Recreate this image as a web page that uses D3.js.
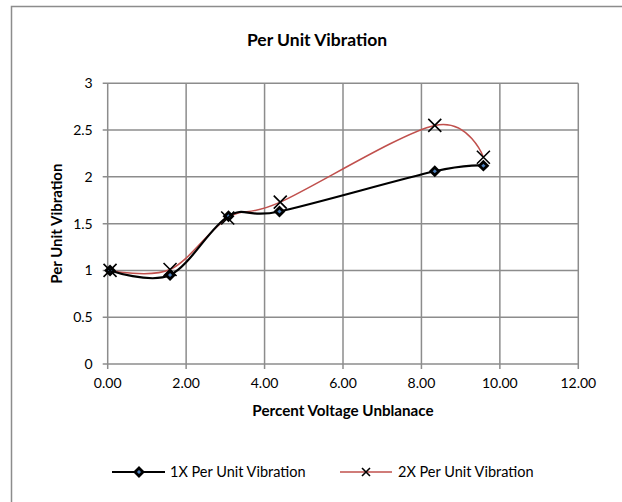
<!DOCTYPE html>
<html lang="en">
<head>
<meta charset="UTF-8">
<script src="https://d3js.org/d3.v7.min.js"></script>
<style>
  body { margin: 0; background: #fff; }
  text { font-family: Lato, "Open Sans", sans-serif; fill: #000; }
</style>
</head>
<body>
<div id="chart"></div>
<script>
// Data
const unbalance1X = [0.06, 1.59, 3.08, 4.38, 8.34, 9.58];
const vibration1X = [1.00, 0.95, 1.58, 1.63, 2.06, 2.12];
const unbalance2X = [0.06, 1.59, 3.06, 4.40, 8.34, 9.58];
const vibration2X = [1.00, 1.01, 1.56, 1.73, 2.55, 2.21];
const xTicks = [0, 2, 4, 6, 8, 10, 12];
const yTicks = [0, 0.5, 1, 1.5, 2, 2.5, 3];
const seriesNames = ["1X Per Unit Vibration", "2X Per Unit Vibration"];

const width = 622, height = 502;
const svg = d3.select("#chart").append("svg")
  .attr("width", width).attr("height", height);

// Chart frame (only top and left edges are visible)
svg.append("path")
  .attr("d", `M11.5,${height} L11.5,6.5 L${width},6.5`)
  .attr("fill", "none").attr("stroke", "#8c8c8c").attr("stroke-width", 1.5);

const x = d3.scaleLinear().domain([0, 12]).range([107.7, 578.3]);
const y = d3.scaleLinear().domain([0, 3]).range([364, 83.3]);

// Gridlines
const grid = svg.append("g").attr("stroke", "#8c8c8c").attr("stroke-width", 1.5);
grid.selectAll("line.v").data(xTicks).join("line")
  .attr("x1", d => x(d)).attr("x2", d => x(d))
  .attr("y1", y(3)).attr("y2", y(0) + 5);
grid.selectAll("line.h").data(yTicks).join("line")
  .attr("x1", x(0) - 5).attr("x2", x(12))
  .attr("y1", d => y(d)).attr("y2", d => y(d));

// Tick labels
svg.append("g").selectAll("text").data(xTicks).join("text")
  .attr("x", d => x(d)).attr("y", y(0) + 24)
  .attr("text-anchor", "middle").attr("font-size", 14)
  .text(d3.format(".2f"));
svg.append("g").selectAll("text").data(yTicks).join("text")
  .attr("x", x(0) - 15).attr("y", d => y(d)).attr("dy", "0.35em")
  .attr("text-anchor", "end").attr("font-size", 14)
  .text(d => d);

// Titles
svg.append("text").attr("x", 317).attr("y", 46)
  .attr("text-anchor", "middle").attr("font-size", 17.5).attr("font-weight", 700)
  .text("Per Unit Vibration");
svg.append("text").attr("x", 343).attr("y", 416)
  .attr("text-anchor", "middle").attr("font-size", 15.2).attr("font-weight", 700)
  .text("Percent Voltage Unblanace");
svg.append("text")
  .attr("transform", `translate(62,${(y(0) + y(3)) / 2}) rotate(-90)`)
  .attr("text-anchor", "middle").attr("font-size", 15).attr("font-weight", 700)
  .text("Per Unit Vibration");

const line = d3.line().x(d => x(d[0])).y(d => y(d[1]))
  .curve(d3.curveCardinal.tension(0));

const pts1 = unbalance1X.map((v, i) => [v, vibration1X[i]]);
const pts2 = unbalance2X.map((v, i) => [v, vibration2X[i]]);

// 2X series (red, cross markers)
svg.append("path").datum(pts2).attr("d", line)
  .attr("fill", "none").attr("stroke", "#c0504d").attr("stroke-width", 1.5);

// 1X series (black, diamond markers)
svg.append("path").datum(pts1).attr("d", line)
  .attr("fill", "none").attr("stroke", "#000").attr("stroke-width", 2.2);

function diamond(g, cx, cy) {
  g.append("path")
    .attr("d", `M${cx},${cy - 4} L${cx + 4},${cy} L${cx},${cy + 4} L${cx - 4},${cy} Z`)
    .attr("fill", "#4f81bd").attr("stroke", "#000").attr("stroke-width", 2.8);
}
function cross(g, cx, cy) {
  g.append("path")
    .attr("d", `M${cx - 6.5},${cy - 6.5} L${cx + 6.5},${cy + 6.5} M${cx - 6.5},${cy + 6.5} L${cx + 6.5},${cy - 6.5}`)
    .attr("stroke", "#000").attr("stroke-width", 1.6);
}

const markers1 = svg.append("g");
pts1.forEach(d => diamond(markers1, x(d[0]), y(d[1])));
const markers2 = svg.append("g");
pts2.forEach(d => cross(markers2, x(d[0]), y(d[1])));

// Legend
const legend = svg.append("g");
legend.append("line").attr("x1", 112).attr("x2", 165).attr("y1", 472).attr("y2", 472)
  .attr("stroke", "#000").attr("stroke-width", 2.2);
diamond(legend, 139, 472);
legend.append("text").attr("x", 170).attr("y", 472).attr("dy", "0.35em")
  .attr("font-size", 14.5).text(seriesNames[0]);

legend.append("line").attr("x1", 340).attr("x2", 392).attr("y1", 472).attr("y2", 472)
  .attr("stroke", "#c0504d").attr("stroke-width", 1.5);
legend.append("path")
  .attr("d", "M362,468 L370,476 M362,476 L370,468")
  .attr("stroke", "#000").attr("stroke-width", 1.6);
legend.append("text").attr("x", 398).attr("y", 472).attr("dy", "0.35em")
  .attr("font-size", 14.5).text(seriesNames[1]);
</script>
</body>
</html>
